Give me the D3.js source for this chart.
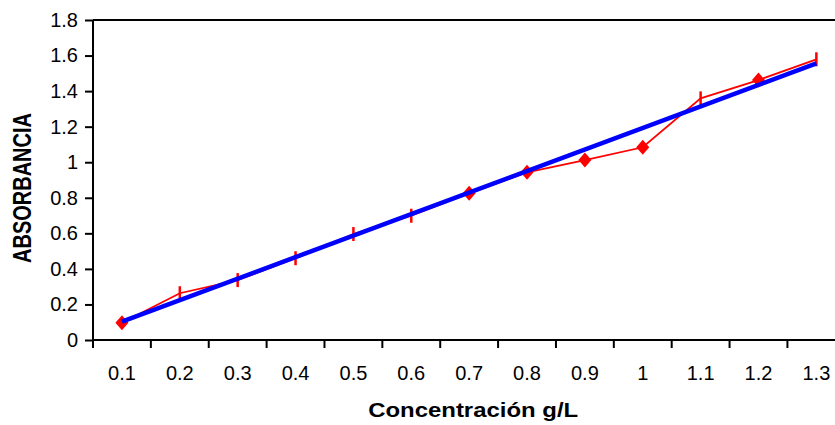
<!DOCTYPE html>
<html lang="es">
<head>
<meta charset="UTF-8">
<title>Absorbancia vs concentración</title>
<script src="https://d3js.org/d3.v7.min.js"></script>
<style>
    body { margin: 0; background: #fff; }
    svg text { font-family: "Liberation Sans", Arial, sans-serif; fill: #000; }
</style>
</head>
<body>
<div id="chart"></div>
<script>
    // data
    let concentraciones = ["0.1", "0.2", "0.3", "0.4", "0.5", "0.6", "0.7", "0.8", "0.9", "1", "1.1", "1.2", "1.3"];
    let absorbancia = [0.097, 0.263, 0.337, 0.46, 0.596, 0.699, 0.825, 0.943, 1.012, 1.084, 1.359, 1.462, 1.579];
    // linear trend, its value at the first and last category
    let tendencia = [{cat: "0.1", value: 0.103}, {cat: "1.3", value: 1.556}];
    let yTicks = [0, 0.2, 0.4, 0.6, 0.8, 1, 1.2, 1.4, 1.6, 1.8];
    // which points show a diamond, the rest show a short dash
    let conRombo = ["0.1", "0.7", "0.8", "0.9", "1", "1.2"];

    let width = 835, height = 425;
    let margin = {top: 20, left: 93, bottom: 85};
    let plotRight = 845.3;

    let svg = d3.select("#chart").append("svg")
        .attr("width", width)
        .attr("height", height);

    let x = d3.scaleBand()
        .domain(concentraciones)
        .range([margin.left, plotRight]);

    let y = d3.scaleLinear()
        .domain([0, 1.8])
        .range([height - margin.bottom, margin.top]);

    let cx = d => x(d) + x.bandwidth() / 2;

    // top frame of the plot area
    svg.append("line")
        .attr("x1", margin.left).attr("x2", width)
        .attr("y1", y(1.8)).attr("y2", y(1.8))
        .attr("stroke", "#000").attr("stroke-width", 2);

    // y axis
    let yAxis = svg.append("g")
        .attr("transform", `translate(${margin.left},0)`)
        .call(d3.axisLeft(y).tickValues(yTicks).tickSize(8).tickPadding(7).tickFormat(d3.format("~g")));
    yAxis.select(".domain").attr("stroke-width", 2).attr("d", `M0,${y(1.8)}V${y(0)}`);
    yAxis.selectAll(".tick line").attr("stroke-width", 2);
    yAxis.selectAll("text").style("font-size", "20px");

    // x axis, ticks between categories
    let xAxis = svg.append("g")
        .attr("transform", `translate(0,${y(0)})`)
        .call(d3.axisBottom(x).tickSize(0).tickPadding(26));
    xAxis.select(".domain").attr("stroke-width", 2).attr("d", `M${margin.left},0H${width}`);
    xAxis.selectAll("text").style("font-size", "20px");
    xAxis.selectAll("line.sep")
        .data(concentraciones)
        .join("line")
        .attr("class", "sep")
        .attr("x1", d => x(d)).attr("x2", d => x(d))
        .attr("y1", 0).attr("y2", 8)
        .attr("stroke", "#000").attr("stroke-width", 2);

    // red series
    let serie = concentraciones.map((c, i) => ({cat: c, value: absorbancia[i]}));
    let linea = d3.line().x(d => cx(d.cat)).y(d => y(d.value));

    svg.append("path")
        .datum(serie)
        .attr("fill", "none")
        .attr("stroke", "#ff0000")
        .attr("stroke-width", 1.8)
        .attr("d", linea);

    svg.selectAll("path.rombo")
        .data(serie.filter(d => conRombo.includes(d.cat)))
        .join("path")
        .attr("class", "rombo")
        .attr("fill", "#ff0000")
        .attr("d", d => {
            let px = cx(d.cat), py = y(d.value);
            return `M${px},${py - 7.5}L${px + 6.5},${py}L${px},${py + 7.5}L${px - 6.5},${py}Z`;
        });

    svg.selectAll("line.raya")
        .data(serie.filter(d => !conRombo.includes(d.cat)))
        .join("line")
        .attr("class", "raya")
        .attr("x1", d => cx(d.cat)).attr("x2", d => cx(d.cat))
        .attr("y1", d => y(d.value) - 7).attr("y2", d => y(d.value) + 7)
        .attr("stroke", "#ff0000")
        .attr("stroke-width", 2.5);

    // blue trend line
    svg.append("path")
        .datum(tendencia)
        .attr("fill", "none")
        .attr("stroke", "#0000ff")
        .attr("stroke-width", 4.5)
        .attr("d", linea);

    // axis titles (the picture is a little stretched sideways)
    let tx = (margin.left + plotRight) / 2 + 4;
    svg.append("text")
        .attr("transform", `translate(${tx},417) scale(1.14,1)`)
        .attr("text-anchor", "middle")
        .style("font-size", "21px")
        .style("font-weight", "bold")
        .text("Concentración g/L");

    svg.append("text")
        .attr("transform", `translate(31,${(y(0) + y(1.8)) / 2 + 8}) scale(1.26,1) rotate(-90)`)
        .attr("text-anchor", "middle")
        .style("font-size", "20px")
        .style("font-weight", "bold")
        .text("ABSORBANCIA");
</script>
</body>
</html>
